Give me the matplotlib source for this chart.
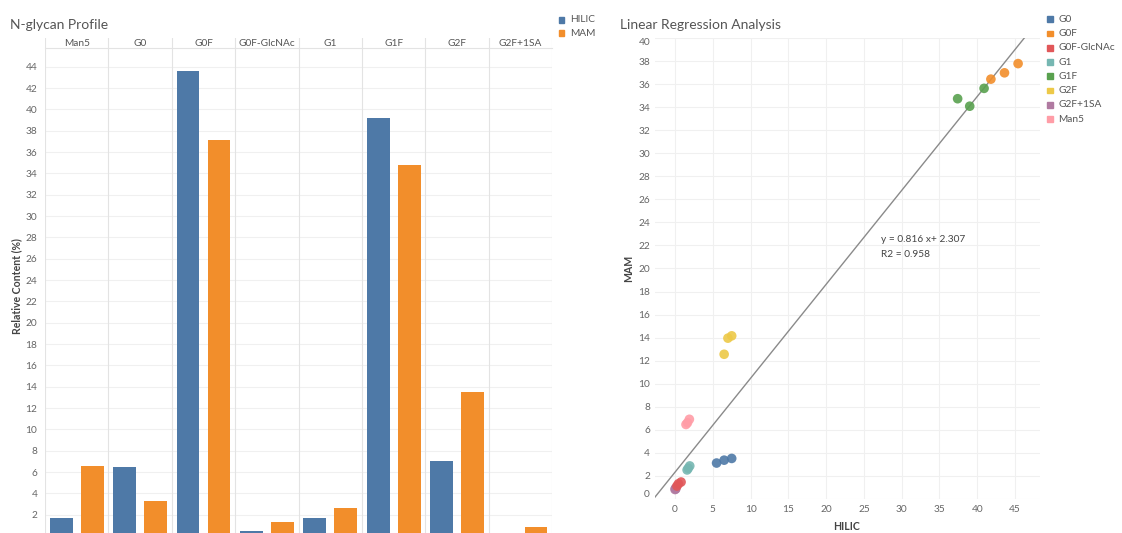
import matplotlib
matplotlib.use("Agg")
import matplotlib.pyplot as plt
from matplotlib.patches import Rectangle
import numpy as np

plt.rcParams['font.family'] = ['Lato', 'DejaVu Sans']

# ---------------- data ----------------
categories = ['Man5', 'G0', 'G0F', 'G0F-GlcNAc', 'G1', 'G1F', 'G2F', 'G2F+1SA']
hilic_pct = [1.7, 6.5, 43.6, 0.5, 1.7, 39.2, 7.0, 0.1]
mam_pct = [6.6, 3.3, 37.1, 1.3, 2.6, 34.8, 13.5, 0.85]
bar_series = ['HILIC', 'MAM']

scatter_groups = ['G0', 'G0F', 'G0F-GlcNAc', 'G1', 'G1F', 'G2F', 'G2F+1SA', 'Man5']
scatter_hilic = {
    'G0': [5.5, 6.5, 7.5],
    'G0F': [41.8, 43.6, 45.4],
    'G0F-GlcNAc': [0.25, 0.45, 0.8],
    'G1': [1.6, 1.75, 1.95],
    'G1F': [37.4, 39.0, 40.9],
    'G2F': [6.5, 7.0, 7.5],
    'G2F+1SA': [0.0, 0.05, 0.1],
    'Man5': [1.45, 1.65, 1.9],
}
scatter_mam = {
    'G0': [3.1, 3.35, 3.5],
    'G0F': [36.45, 37.0, 37.8],
    'G0F-GlcNAc': [1.1, 1.3, 1.45],
    'G1': [2.5, 2.65, 2.85],
    'G1F': [34.75, 34.1, 35.65],
    'G2F': [12.55, 13.95, 14.15],
    'G2F+1SA': [0.8, 0.9, 0.85],
    'Man5': [6.45, 6.6, 6.9],
}
reg_slope = 0.816
reg_intercept = 2.307
reg_r2 = 0.958

bar_ticks = list(range(2, 46, 2))
sc_xticks = list(range(0, 50, 5))
sc_yticks = list(range(0, 42, 2))

# ---------------- style ----------------
BLUE = '#4E79A7'
ORANGE = '#F28E2B'
group_colors = {
    'G0': '#4E79A7', 'G0F': '#F28E2B', 'G0F-GlcNAc': '#E15759', 'G1': '#76B7B2',
    'G1F': '#59A14F', 'G2F': '#EDC948', 'G2F+1SA': '#B07AA1', 'Man5': '#FF9DA7',
}
TXT = '#555555'
TICK = '#666666'
GRID = '#f0f0f0'
DIV = '#e3e3e3'
FS = 7.3

W, H = 1122, 533
fig = plt.figure(figsize=(W / 100, H / 100), dpi=100)
fig.patch.set_facecolor('white')


def fx(x):
    return x / W


def fy(y):
    return 1 - y / H


# ---------------- bar chart ----------------
L1, R1, T1, B1 = 45, 552.3, 47.7, 533
ax1 = fig.add_axes([fx(L1), fy(B1), (R1 - L1) / W, (B1 - T1) / H])
n = len(categories)
xpos = np.arange(n)
off, bw = 0.244, 0.36
ax1.bar(xpos - off, hilic_pct, width=bw, color=BLUE, zorder=3)
ax1.bar(xpos + off, mam_pct, width=bw, color=ORANGE, zorder=3)
ax1.set_xlim(-0.5, n - 0.5)
ax1.set_ylim(0.284, 45.78)
ax1.set_yticks(bar_ticks)
ax1.set_yticklabels([str(t) for t in bar_ticks], fontsize=FS, color=TICK)
ax1.tick_params(axis='y', length=0, pad=5.5)
ax1.set_xticks([])
for t in bar_ticks:
    ax1.axhline(t, color=GRID, lw=0.8, zorder=1)
for s in ax1.spines.values():
    s.set_visible(False)
ax1.spines['top'].set_visible(True)
ax1.spines['top'].set_color(DIV)
ax1.spines['top'].set_linewidth(0.8)
for b in np.arange(-0.5, n, 1.0):
    ax1.axvline(b, color=DIV, lw=0.8, zorder=2)

# header strip
axh = fig.add_axes([fx(L1), fy(T1), (R1 - L1) / W, (T1 - 38.3) / H])
axh.set_xlim(-0.5, n - 0.5)
axh.set_ylim(0, 1)
axh.axis('off')
for b in np.arange(-0.5, n, 1.0):
    axh.plot([b, b], [0, 1], color=DIV, lw=0.8)
for i, c in enumerate(categories):
    axh.text(i, 0.5, c, ha='center', va='center', fontsize=FS, color=TXT)

fig.text(fx(10.5), fy(25), 'N-glycan Profile', fontsize=10, color=TXT, ha='left', va='center')
fig.text(fx(16.5), fy(286), 'Relative Content (%)', fontsize=7.6, color='#444444',
         fontweight='bold', rotation=90, ha='center', va='center')

# bar legend
for k, (lab, col) in enumerate(zip(bar_series, [BLUE, ORANGE])):
    yc = 19.7 + k * 13.4
    fig.add_artist(Rectangle((fx(558.5), fy(yc + 2.8)), 5.6 / W, 5.6 / H,
                             transform=fig.transFigure, color=col))
    fig.text(fx(570.5), fy(yc), lab, fontsize=FS, color=TXT, ha='left', va='center')

# ---------------- scatter ----------------
L2, R2, T2, B2 = 655, 1040, 37.7, 499.3
ax2 = fig.add_axes([fx(L2), fy(B2), (R2 - L2) / W, (B2 - T2) / H])
ax2.set_xlim(-2.65, 48.3)
ax2.set_ylim(-0.05, 40.05)
for s in ax2.spines.values():
    s.set_visible(False)
for t in sc_xticks:
    ax2.axvline(t, color=GRID, lw=0.8, zorder=0)
for t in sc_yticks:
    ax2.axhline(t, color=GRID, lw=0.8, zorder=0)
ax2.set_xticks(sc_xticks)
ax2.set_xticklabels([str(t) for t in sc_xticks], fontsize=FS, color=TICK)
ax2.set_yticks(sc_yticks)
ax2.set_yticklabels([str(t) for t in sc_yticks], fontsize=FS, color=TICK)
ax2.tick_params(length=0)
ax2.tick_params(axis='y', pad=3.6)
ax2.tick_params(axis='x', pad=4.0)
ylabs = ax2.get_yticklabels()
ylabs[0].set_va('bottom')
ylabs[-1].set_va('top')

xl = np.array(ax2.get_xlim())
ax2.plot(xl, reg_slope * xl + reg_intercept, color='#8a8a8a', lw=1.0, zorder=2)

draw_order = ['G2F+1SA', 'G0F-GlcNAc', 'G1', 'Man5', 'G0', 'G2F', 'G1F', 'G0F']
for z, g in enumerate(draw_order):
    ax2.scatter(scatter_hilic[g], scatter_mam[g], s=48, color=group_colors[g],
                edgecolors='none', alpha=0.9, zorder=3 + z)

ax2.text(27.3, 22.5, f'y = {reg_slope} x+ {reg_intercept}', fontsize=FS, color='#444444',
         ha='left', va='center')
ax2.text(27.3, 21.23, f'R2 = {reg_r2}', fontsize=FS, color='#444444', ha='left', va='center')

fig.text(fx(620), fy(25), 'Linear Regression Analysis', fontsize=10, color=TXT,
         ha='left', va='center')
fig.text(fx(629), fy(268), 'MAM', fontsize=7.6, color='#444444', fontweight='bold',
         rotation=90, ha='center', va='center')
fig.text(fx(847), fy(526.5), 'HILIC', fontsize=7.6, color='#444444', fontweight='bold',
         ha='center', va='center')

for k, g in enumerate(scatter_groups):
    yc = 19.3 + k * 14.25
    fig.add_artist(Rectangle((fx(1047), fy(yc + 2.8)), 5.6 / W, 5.6 / H,
                             transform=fig.transFigure, color=group_colors[g]))
    fig.text(fx(1058.5), fy(yc), g, fontsize=FS, color=TXT, ha='left', va='center')

fig.savefig('out.png', dpi=100, facecolor='white')
